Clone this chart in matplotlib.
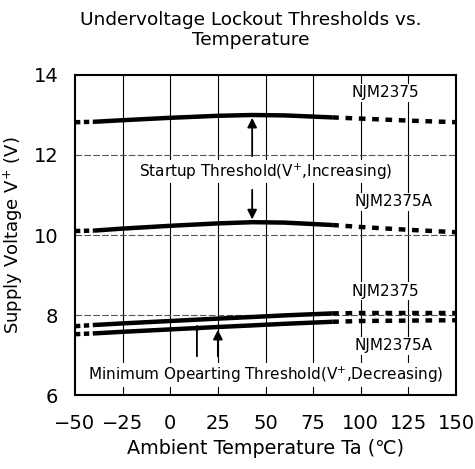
import matplotlib.pyplot as plt
import numpy as np

# Datos
temp_solid = [-40, -25, 0, 25, 43, 60, 85]
temp_left = [-50, -40]
temp_right = [85, 100, 125, 150]

start_2375 = [12.83, 12.87, 12.93, 12.98, 13.0, 12.99, 12.94]
start_2375_l = [12.82, 12.83]
start_2375_r = [12.94, 12.91, 12.86, 12.82]

start_2375a = [10.11, 10.16, 10.23, 10.29, 10.32, 10.31, 10.25]
start_2375a_l = [10.10, 10.11]
start_2375a_r = [10.25, 10.20, 10.13, 10.07]

min_2375 = [7.75, 7.79, 7.85, 7.91, 7.95, 7.99, 8.04]
min_2375_l = [7.72, 7.75]
min_2375_r = [8.04, 8.05, 8.05, 8.05]

min_2375a = [7.54, 7.58, 7.64, 7.70, 7.74, 7.78, 7.83]
min_2375a_l = [7.52, 7.54]
min_2375a_r = [7.83, 7.85, 7.86, 7.87]

x_ticks = [-50, -25, 0, 25, 50, 75, 100, 125, 150]
y_ticks = [6, 8, 10, 12, 14]

fig = plt.figure(figsize=(4.75, 4.69), dpi=100)
ax = fig.add_axes([75 / 475, 1 - 395 / 469, 381 / 475, 320 / 469])

ax.set_xlim(-50, 150)
ax.set_ylim(6, 14)
ax.set_xticks(x_ticks)
ax.set_yticks(y_ticks)
ax.tick_params(axis='x', length=0, labelsize=14, pad=14)
ax.tick_params(axis='y', length=0, labelsize=14, pad=12)

# rejilla
for xv in x_ticks[1:-1]:
    ax.axvline(xv, color='black', lw=0.8, zorder=1)
for yv in y_ticks[1:-1]:
    ax.axhline(yv, color='#555555', lw=0.8, ls=(0, (6, 2)), zorder=1)

series = [
    (start_2375, start_2375_l, start_2375_r),
    (start_2375a, start_2375a_l, start_2375a_r),
    (min_2375, min_2375_l, min_2375_r),
    (min_2375a, min_2375a_l, min_2375a_r),
]
for sol, lft, rgt in series:
    ax.plot(temp_solid, sol, color='black', lw=3.2, solid_capstyle='butt', zorder=3)
    ax.plot(temp_left, lft, color='black', lw=3.2, ls=(0, (1.2, 0.8)), zorder=3)
    ax.plot(temp_right, rgt, color='black', lw=3.2, ls=(0, (1.5, 1.5)), zorder=3)

bbox = dict(facecolor='white', edgecolor='none', pad=1)
fs = 11
ax.text(113, 13.55, 'NJM2375', fontsize=fs, ha='center', va='center', bbox=bbox, zorder=4)
ax.text(117, 10.83, 'NJM2375A', fontsize=fs, ha='center', va='center', bbox=bbox, zorder=4)
ax.text(50, 11.58, r'Startup Threshold(V$^{+}$,Increasing)', fontsize=fs,
        ha='center', va='center', bbox=bbox, zorder=4)
ax.text(113, 8.6, 'NJM2375', fontsize=fs, ha='center', va='center', bbox=bbox, zorder=4)
ax.text(117, 7.23, 'NJM2375A', fontsize=fs, ha='center', va='center', bbox=bbox, zorder=4)
ax.text(50, 6.5, r'Minimum Opearting Threshold(V$^{+}$,Decreasing)', fontsize=fs,
        ha='center', va='center', bbox=bbox, zorder=4)

# flechas
arr = dict(arrowstyle='-|>', color='black', lw=1.3, mutation_scale=14)
ax.annotate('', xy=(43, 13.0), xytext=(43, 11.9), arrowprops=arr, zorder=5)
ax.annotate('', xy=(43, 10.32), xytext=(43, 11.2), arrowprops=arr, zorder=5)
ax.annotate('', xy=(14, 7.84), xytext=(14, 6.9), arrowprops=dict(arrowstyle='-|>', color='black',
            lw=1.3, mutation_scale=6), zorder=5)
ax.annotate('', xy=(25, 7.7), xytext=(25, 6.9), arrowprops=arr, zorder=5)

for s in ax.spines.values():
    s.set_linewidth(1.5)

ax.set_xlabel('Ambient Temperature Ta (℃)', fontsize=13.8, labelpad=4)
ax.set_ylabel(r'Supply Voltage V$^{+}$ (V)', fontsize=13, labelpad=6)
fig.text(0.527, 0.936, 'Undervoltage Lockout Thresholds vs.\nTemperature', fontsize=13.3,
         ha='center', va='center', linespacing=1.15)

fig.savefig('out.png', dpi=100)
